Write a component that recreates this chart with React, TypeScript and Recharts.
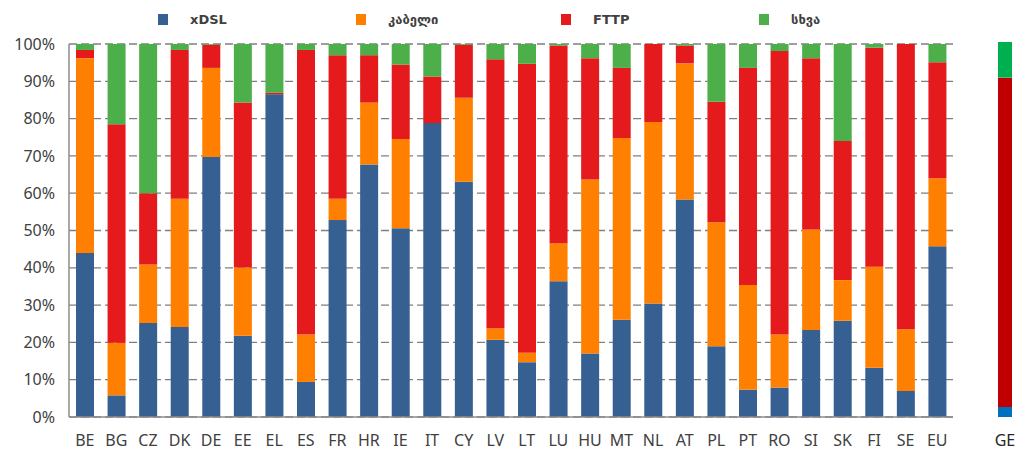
import React from 'react';
import { BarChart, Bar, XAxis, YAxis, CartesianGrid, Legend } from 'recharts';

const categories = ['BE', 'BG', 'CZ', 'DK', 'DE', 'EE', 'EL', 'ES', 'FR', 'HR', 'IE', 'IT', 'CY', 'LV', 'LT', 'LU', 'HU', 'MT', 'NL', 'AT', 'PL', 'PT', 'RO', 'SI', 'SK', 'FI', 'SE', 'EU'];
const xdsl = [44.0, 5.8, 25.2, 24.1, 69.7, 21.8, 86.5, 9.4, 52.8, 67.7, 50.6, 78.8, 63.1, 20.7, 14.7, 36.4, 17.0, 26.1, 30.4, 58.3, 19.0, 7.3, 7.9, 23.3, 25.8, 13.2, 7.0, 45.8];
const cable = [52.2, 14.1, 15.7, 34.4, 23.9, 18.3, 0, 12.7, 5.7, 16.6, 23.9, 0, 22.5, 3.1, 2.5, 10.2, 46.7, 48.7, 48.7, 36.5, 33.2, 28.1, 14.2, 27.0, 10.9, 27.1, 16.5, 18.2];
const fttp = [2.2, 58.6, 19.1, 39.9, 6.2, 44.2, 0.4, 76.3, 38.5, 12.7, 20.0, 12.5, 14.2, 72.1, 77.5, 53.0, 32.5, 18.8, 20.9, 4.8, 32.3, 58.2, 76.0, 45.9, 37.3, 58.7, 76.5, 31.1];
const other = [1.6, 21.5, 40.0, 1.6, 0.2, 15.7, 13.1, 1.6, 3.0, 3.0, 5.5, 8.7, 0.2, 4.1, 5.3, 0.4, 3.8, 6.4, 0, 0.4, 15.5, 6.4, 1.9, 3.8, 26.0, 1.0, 0, 4.9];

const geCategories = ['GE'];
const geXdsl = [2.7];
const geFttp = [87.8];
const geOther = [9.5];

const seriesNames = ['xDSL', 'კაბელი', 'FTTP', 'სხვა'];
const yTicks = [0, 10, 20, 30, 40, 50, 60, 70, 80, 90, 100];

const data = categories.map((c, i) => ({
  country: c,
  xdsl: xdsl[i],
  cable: cable[i],
  fttp: fttp[i],
  other: other[i],
}));

const geData = geCategories.map((c, i) => ({
  country: c,
  xdsl: geXdsl[i],
  fttp: geFttp[i],
  other: geOther[i],
}));

const FONT = '"Noto Sans", "DejaVu Sans", sans-serif';
const GEO_FONT = '"DejaVu Sans", sans-serif';

const legendX = [158, 356, 561, 759];

function LegendRow(props: any) {
  const items = [...(props.payload || [])].sort(
    (a: any, b: any) => seriesNames.indexOf(a.value) - seriesNames.indexOf(b.value)
  );
  return (
    <div style={{ position: 'relative', height: 0, width: 1017 }}>
      {items.map((it: any, i: number) => (
        <div
          key={it.value}
          style={{ position: 'absolute', left: legendX[i], top: 14, display: 'flex', alignItems: 'center' }}
        >
          <span style={{ width: 10, height: 11, background: it.color, display: 'inline-block' }} />
          <span
            style={{
              marginLeft: 22,
              fontSize: 13,
              fontWeight: 600,
              color: '#404040',
              fontFamily: GEO_FONT,
              lineHeight: '11px',
            }}
          >
            {it.value}
          </span>
        </div>
      ))}
    </div>
  );
}

export default function App(): React.ReactElement {
  return (
    <div style={{ position: 'absolute', left: 0, top: 0, width: 1017, height: 451, overflow: 'hidden', background: '#fff' }}>
      <div style={{ position: 'absolute', left: 0, top: 0 }}>
        <BarChart
          width={1017}
          height={451}
          data={data}
          stackOffset="expand"
          barSize={18}
          margin={{ top: 44, right: 64, bottom: 0, left: 0 }}
        >
          <CartesianGrid vertical={false} stroke="#7f7f7f" strokeDasharray="8 4" strokeWidth={1.3} />
          <XAxis
            dataKey="country"
            height={34}
            tickLine={false}
            axisLine={{ stroke: '#8c8c8c', strokeWidth: 1.5 }}
            tick={{ fill: '#404040', fontSize: 16, fontFamily: FONT }}
            tickMargin={12}
            interval={0}
          />
          <YAxis
            width={69}
            domain={[0, 1]}
            ticks={yTicks.map((t) => t / 100)}
            tickFormatter={(v: number) => `${Math.round(v * 100)}%`}
            tickLine={false}
            axisLine={{ stroke: '#8c8c8c', strokeWidth: 1.5 }}
            tick={{ fill: '#404040', fontSize: 16, fontFamily: FONT }}
            tickMargin={8}
          />
          <Legend
            verticalAlign="top"
            align="left"
            height={0}
            content={<LegendRow />}
            wrapperStyle={{ top: 0, left: 0, height: 0 }}
          />
          <Bar dataKey="xdsl" name="xDSL" stackId="a" fill="#376092" isAnimationActive={false} />
          <Bar dataKey="cable" name="კაბელი" stackId="a" fill="#FF8000" isAnimationActive={false} />
          <Bar dataKey="fttp" name="FTTP" stackId="a" fill="#E41A1C" isAnimationActive={false} />
          <Bar dataKey="other" name="სხვა" stackId="a" fill="#4DAF4A" isAnimationActive={false} />
        </BarChart>
      </div>
      <div style={{ position: 'absolute', left: 985, top: 0 }}>
        <BarChart
          width={40}
          height={451}
          data={geData}
          stackOffset="expand"
          barSize={14}
          margin={{ top: 42, right: 0, bottom: 0, left: 0 }}
        >
          <XAxis
            dataKey="country"
            height={34}
            tickLine={false}
            axisLine={false}
            tick={{ fill: '#262626', fontSize: 16, fontFamily: FONT }}
            tickMargin={12}
          />
          <YAxis hide domain={[0, 1]} />
          <Bar dataKey="xdsl" stackId="g" fill="#0070C0" isAnimationActive={false} />
          <Bar dataKey="fttp" stackId="g" fill="#C00000" isAnimationActive={false} />
          <Bar dataKey="other" stackId="g" fill="#00B050" isAnimationActive={false} />
        </BarChart>
      </div>
    </div>
  );
}
